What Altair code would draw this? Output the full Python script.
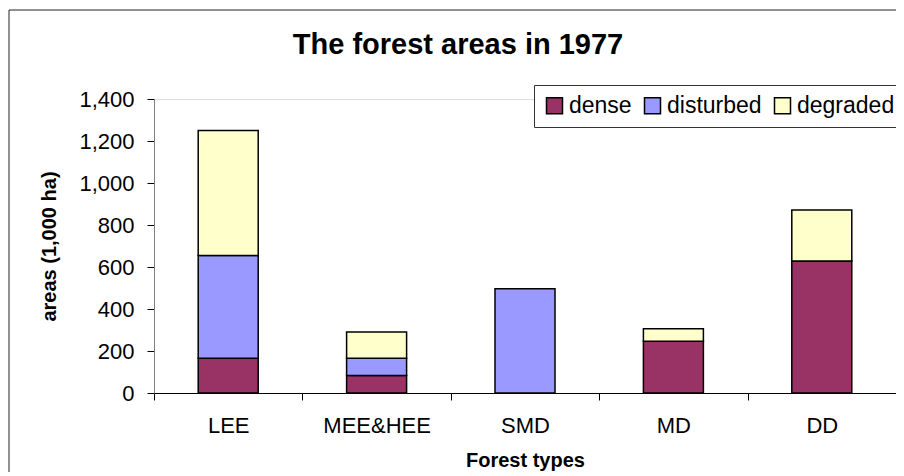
import altair as alt
import pandas as pd

TITLE = "The forest areas in 1977"
categories = ["LEE", "MEE&HEE", "SMD", "MD", "DD"]
series = ["dense", "disturbed", "degraded"]
dense = [165, 83, 0, 247, 629]
disturbed = [490, 82, 497, 0, 0]
degraded = [595, 125, 0, 59, 242]
colors = ["#993366", "#9999FF", "#FFFFCC"]
y_ticks = [0, 200, 400, 600, 800, 1000, 1200, 1400]

rows = []
for ci, cat in enumerate(categories):
    for si, (name, vals) in enumerate(zip(series, [dense, disturbed, degraded])):
        if vals[ci] > 0:
            rows.append({"type": cat, "cover": name, "area": vals[ci], "ord": si})
df = pd.DataFrame(rows)

FONT = "Liberation Sans"

bars = alt.Chart(df).mark_bar(size=60, stroke="black", strokeWidth=1.5).encode(
    x=alt.X("type:N", sort=categories,
            scale=alt.Scale(paddingInner=0, paddingOuter=0),
            axis=alt.Axis(title="Forest types", labelAngle=0, tickBand="extent",
                          domainColor="black", tickColor="black", tickSize=7,
                          labelFontSize=22, labelFont=FONT, labelColor="black",
                          labelPadding=15, titleFontSize=20, titleFont=FONT,
                          titleFontWeight="bold", titleColor="black",
                          titleBaseline="alphabetic", titleY=73)),
    y=alt.Y("sum(area):Q", stack="zero",
            scale=alt.Scale(domain=[0, 1400], nice=False),
            axis=alt.Axis(title="areas (1,000 ha)", values=y_ticks, format=",.0f",
                          grid=False, domainColor="#808080", tickColor="black",
                          tickSize=7, labelFontSize=22, labelFont=FONT,
                          labelColor="black", labelPadding=13,
                          titleFontSize=20, titleFont=FONT, titleFontWeight="bold",
                          titleColor="black", titleX=-105, titleY=147,
                          titleBaseline="middle", titleAngle=-90)),
    color=alt.Color("cover:N", sort=series,
                    scale=alt.Scale(domain=series, range=colors),
                    legend=alt.Legend(title=None, orient="none", direction="horizontal",
                                      legendX=380, legendY=-14, padding=9,
                                      strokeColor="#333333", fillColor="white",
                                      symbolType="square", symbolSize=256,
                                      symbolStrokeColor="black", symbolStrokeWidth=1.5,
                                      symbolOpacity=1, labelFontSize=23, labelFont=FONT,
                                      labelColor="black", labelOffset=3,
                                      columnPadding=9, labelLimit=300)),
    order=alt.Order("ord:Q", sort="ascending"),
)

one = pd.DataFrame({"a": [0]})
frame_top = alt.Chart(one).mark_rule(color="#222222", strokeWidth=1, clip=False).encode(
    x=alt.value(-145), x2=alt.value(760), y=alt.value(-89)
)
frame_left = alt.Chart(one).mark_rule(color="#222222", strokeWidth=1, clip=False).encode(
    x=alt.value(-145), y=alt.value(-89), y2=alt.value(400)
)

chart = alt.layer(frame_top, frame_left, bars).properties(
    width=742, height=294,
    autosize=alt.AutoSizeParams(type="none"),
    padding={"left": 146, "top": 91, "right": 0, "bottom": 79},
    title=alt.TitleParams(TITLE, fontSize=29, font=FONT, fontWeight="bold",
                          color="black", anchor="middle", frame="group",
                          dx=-67, baseline="alphabetic", offset=-73),
).configure_view(strokeOpacity=0, strokeWidth=0).configure(background="white")

chart.save("out.html", embed_options={"renderer": "svg", "actions": False})
